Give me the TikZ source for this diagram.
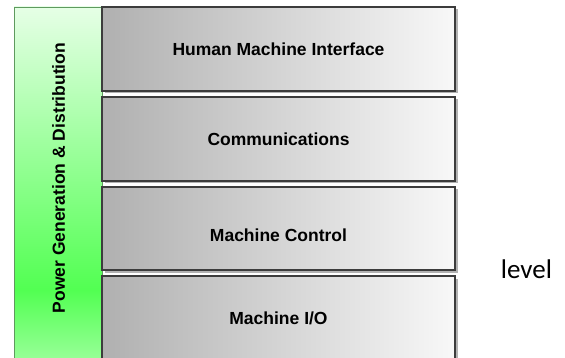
\documentclass[tikz,border=0pt]{standalone}
\usepackage{fontspec}
\setmainfont{Liberation Sans}
\newfontfamily\levelfont{Carlito}
\usepackage{tikz}
\usetikzlibrary{positioning}
\definecolor{greentop}{HTML}{E6FFE6}
\definecolor{greenmid}{HTML}{52FF52}
\definecolor{greenlow}{HTML}{9AFF9A}
\definecolor{greenedge}{HTML}{5E9A5E}
\definecolor{boxleft}{HTML}{B0B0B0}
\definecolor{boxright}{HTML}{F8F8F8}
\definecolor{boxedge}{HTML}{3C3C3C}

\begin{document}
\begin{tikzpicture}[x=1pt, y=-1pt]
    \useasboundingbox (0, 0) rectangle (565, 358);
    \tikzset{layer/.style={draw=boxedge, line width=1.3pt, left color=boxleft, right color=boxright,
        minimum width=353pt, inner sep=0pt, font=\fontsize{17.5}{20}\selectfont\bfseries},
        layershadow/.style={fill=black!30, draw=none}}
    % Green bar
    \fill [top color=greentop, bottom color=greenmid] (14, 7) rectangle (102, 290);
    \fill [top color=greenmid, bottom color=greenlow] (14, 290) rectangle (102, 362);
    \draw [greenedge, line width=0.8pt] (14, 362) -- (14, 7) -- (102, 7) -- (102, 362);
    \node (power) [rotate=90, font=\fontsize{17.5}{20}\selectfont\bfseries] at (58.5, 178) {Power Generation \& Distribution};
    % Shadows
    \fill [layershadow] (104.5, 9.5) rectangle (457.5, 93.5);
    \fill [layershadow] (104.5, 99.5) rectangle (457.5, 183.5);
    \fill [layershadow] (104.5, 189.5) rectangle (457.5, 272.5);
    \fill [layershadow] (104.5, 278.5) rectangle (457.5, 363.5);
    % Layers
    \node (hmi) [layer, minimum height=84pt] at (278.5, 49) {Human Machine Interface};
    \node (comms) [layer, minimum height=84pt] at (278.5, 139) {Communications};
    \node (ctrl) [layer, minimum height=83pt, text height=27pt, text depth=0pt] at (278.5, 228.5) {Machine Control};
    \node (mio) [layer, minimum height=85pt] at (278.5, 318.5) {Machine I/O};
    % Side text
    \node (level) [anchor=base, font=\levelfont\fontsize{27}{30}\selectfont] at (526.5, 279) {level};
\end{tikzpicture}
\end{document}
